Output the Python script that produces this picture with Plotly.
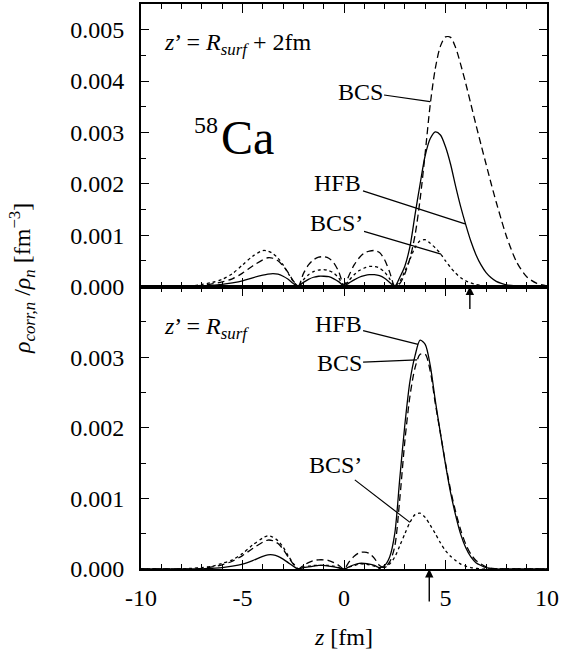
import plotly.graph_objects as go
from plotly.subplots import make_subplots
import numpy as np

# sample positions along z [fm]
Z = [-10, -9, -8, -7.5, -7, -6.5, -6, -5.5, -5, -4.5, -4,
     -3.75, -3.5, -3.25, -3, -2.75, -2.5, -2.25, -2, -1.75, -1.5, -1.25, -1,
     -0.75, -0.5, -0.25, 0, 0.25, 0.5, 0.75, 1, 1.25, 1.5, 1.75, 2, 2.25, 2.5,
     2.75, 3, 3.25, 3.5, 3.75, 4, 4.25, 4.5, 4.75, 5, 5.25, 5.5, 5.75, 6,
     6.25, 6.5, 6.75, 7, 7.25, 7.5, 7.75, 8, 8.5, 9, 9.5, 10]

# rho_corr,n / rho_n in units of 1e-3 fm^-3, z' = R_surf + 2 fm
TOP_HFB = [0, 0, 0, 0.00, 0.01, 0.02, 0.04, 0.07, 0.11, 0.17, 0.22,
           0.24, 0.25, 0.24, 0.20, 0.14, 0.06, 0.01, 0.08, 0.14, 0.18, 0.20, 0.20,
           0.19, 0.15, 0.09, 0.01, 0.07, 0.13, 0.18, 0.21, 0.23, 0.23, 0.21, 0.16, 0.08, 0.00,
           0.18, 0.40, 0.78, 1.40, 2.00, 2.55, 2.88, 3.01, 2.95, 2.72, 2.38, 1.95, 1.55, 1.20,
           0.88, 0.62, 0.42, 0.27, 0.17, 0.10, 0.06, 0.03, 0.01, 0, 0, 0]
TOP_BCS = [0, 0, 0, 0.00, 0.02, 0.05, 0.09, 0.15, 0.26, 0.40, 0.52,
           0.56, 0.55, 0.50, 0.40, 0.27, 0.11, 0.01, 0.25, 0.42, 0.52, 0.57, 0.58,
           0.55, 0.46, 0.28, 0.02, 0.22, 0.42, 0.56, 0.65, 0.69, 0.70, 0.66, 0.52, 0.28, 0.01,
           0.06, 0.25, 0.55, 1.00, 1.70, 2.60, 3.55, 4.25, 4.68, 4.86, 4.85, 4.65, 4.32, 3.95,
           3.55, 3.15, 2.76, 2.38, 2.00, 1.64, 1.30, 0.98, 0.48, 0.19, 0.06, 0.01]
TOP_BCSP = [0, 0, 0, 0.01, 0.04, 0.08, 0.14, 0.25, 0.42, 0.59, 0.70,
            0.69, 0.64, 0.55, 0.42, 0.26, 0.10, 0.01, 0.13, 0.23, 0.29, 0.32, 0.33,
            0.31, 0.26, 0.16, 0.01, 0.12, 0.23, 0.31, 0.36, 0.39, 0.39, 0.36, 0.28, 0.15, 0.01,
            0.10, 0.30, 0.53, 0.76, 0.89, 0.91, 0.84, 0.75, 0.64, 0.50, 0.37, 0.26, 0.17, 0.11,
            0.07, 0.04, 0.02, 0.01, 0, 0, 0, 0, 0, 0, 0, 0]

# z' = R_surf
BOT_HFB = [0, 0, 0, 0.00, 0.00, 0.01, 0.02, 0.04, 0.07, 0.12, 0.18,
           0.20, 0.20, 0.18, 0.14, 0.09, 0.04, 0.00, 0.02, 0.03, 0.04, 0.05, 0.05,
           0.04, 0.03, 0.015, 0.00, 0.03, 0.06, 0.08, 0.08, 0.07, 0.05, 0.02, 0.05, 0.17, 0.50,
           1.29, 2.05, 2.66, 3.02, 3.24, 3.18, 2.88, 2.38, 1.92, 1.48, 1.08, 0.76, 0.49, 0.30,
           0.17, 0.09, 0.05, 0.02, 0.01, 0, 0, 0, 0, 0, 0, 0]
BOT_BCS = [0, 0, 0, 0.00, 0.01, 0.03, 0.06, 0.11, 0.19, 0.29, 0.38,
           0.41, 0.40, 0.36, 0.28, 0.17, 0.07, 0.00, 0.05, 0.09, 0.12, 0.13, 0.13,
           0.12, 0.09, 0.05, 0.00, 0.10, 0.18, 0.23, 0.24, 0.22, 0.15, 0.05, 0.02, 0.10, 0.32,
           1.00, 1.82, 2.45, 2.85, 3.04, 3.04, 2.80, 2.34, 1.92, 1.50, 1.12, 0.81, 0.55, 0.35,
           0.21, 0.12, 0.07, 0.03, 0.01, 0, 0, 0, 0, 0, 0, 0]
BOT_BCSP = [0, 0, 0, 0.01, 0.02, 0.04, 0.08, 0.13, 0.22, 0.34, 0.44,
            0.47, 0.45, 0.40, 0.31, 0.19, 0.08, 0.00, 0.02, 0.04, 0.05, 0.05, 0.05,
            0.05, 0.04, 0.02, 0.00, 0.03, 0.05, 0.07, 0.07, 0.06, 0.04, 0.01, 0.02, 0.07, 0.17,
            0.33, 0.50, 0.66, 0.77, 0.79, 0.73, 0.62, 0.50, 0.37, 0.26, 0.18, 0.12, 0.07, 0.04,
            0.02, 0.01, 0, 0, 0, 0, 0, 0, 0, 0, 0, 0]

for s in (TOP_HFB, TOP_BCS, TOP_BCSP, BOT_HFB, BOT_BCS, BOT_BCSP):
    assert len(s) == len(Z), len(s)

X_TICKS = [-10, -5, 0, 5, 10]
X_TICKTEXT = ["-10", "-5", "0", "5", "10"]
TOP_YTICKS = [0, 0.001, 0.002, 0.003, 0.004, 0.005]
TOP_YTEXT = ["0.000", "0.001", "0.002", "0.003", "0.004", "0.005"]
BOT_YTICKS = [0, 0.001, 0.002, 0.003]
BOT_YTEXT = ["0.000", "0.001", "0.002", "0.003"]

FONT = "Liberation Serif"
W, H = 561, 655
ML, MR, MT, MB = 141, 14, 2, 86
PW, PH = W - ML - MR, H - MT - MB


def px(x):
    return (x - ML) / PW


def py(y):
    return (H - MB - y) / PH


fig = make_subplots(rows=2, cols=1, shared_xaxes=True, vertical_spacing=0)

styles = [("HFB", "solid"), ("BCS", "7px,4px"), ("BCS’", "dot")]
for row, series in ((1, (TOP_HFB, TOP_BCS, TOP_BCSP)), (2, (BOT_HFB, BOT_BCS, BOT_BCSP))):
    for (name, dash), vals in zip(styles, series):
        fig.add_trace(go.Scatter(
            x=Z, y=np.array(vals) * 1e-3, mode="lines", name=name,
            line=dict(color="black", width=1.3, dash=dash, shape="spline", smoothing=0.8),
            showlegend=False), row=row, col=1)

axis_common = dict(showline=True, linewidth=2, linecolor="black", mirror="ticks",
                   ticks="inside", tickcolor="black", showgrid=False, zeroline=False,
                   tickfont=dict(family=FONT, size=24, color="black"))

xcommon = dict(axis_common, range=[-10, 10], tickmode="array", tickvals=X_TICKS,
               ticktext=X_TICKTEXT, ticklen=9, tickwidth=1.2,
               minor=dict(tickmode="linear", tick0=0, dtick=1, ticklen=5,
                          ticks="inside", tickcolor="black", tickwidth=1))
fig.update_xaxes(xcommon, showticklabels=False, row=1, col=1)
fig.update_xaxes(xcommon, showticklabels=True, ticklabelstandoff=6, row=2, col=1)

ycommon = dict(axis_common, ticklen=8, tickwidth=1.2, ticklabelstandoff=10,
               minor=dict(tickmode="linear", tick0=0, dtick=0.0005, ticklen=5,
                          ticks="inside", tickcolor="black", tickwidth=1))
fig.update_yaxes(ycommon, range=[0, 0.0055], tickmode="array", tickvals=TOP_YTICKS,
                 ticktext=TOP_YTEXT, row=1, col=1)
fig.update_yaxes(ycommon, range=[0, 0.004], tickmode="array", tickvals=BOT_YTICKS,
                 ticktext=BOT_YTEXT, row=2, col=1)

tfont = dict(family=FONT, size=24, color="black")
ann = []

# curve labels with leader lines: (text, x, y, xref, yref, ax, ay)
leaders = [
    ("BCS", 4.24, 3.6e-3, "x", "y", -70, -10),
    ("HFB", 5.96, 1.22e-3, "x", "y", -127, -41),
    ("BCS’", 4.78, 0.63e-3, "x", "y", -105, -31),
    ("HFB", 3.65, 3.18e-3, "x2", "y2", -80, -20),
    ("BCS", 3.6, 2.96e-3, "x2", "y2", -78, 3),
    ("BCS’", 3.25, 0.66e-3, "x2", "y2", -74, -57),
]
for t, x, y, xr, yr, ax, ay in leaders:
    ann.append(dict(text=t, x=x, y=y, xref=xr, yref=yr, ax=ax, ay=ay,
                    showarrow=True, arrowhead=0, arrowwidth=1.2, arrowcolor="black",
                    standoff=0, startstandoff=0, font=tfont))

# z' markers below each panel
ann.append(dict(text="", x=6.2, y=0, xref="x", yref="y", ax=0, ay=24, showarrow=True,
                arrowhead=2, arrowsize=1.2, arrowwidth=1.4, arrowcolor="black", standoff=0))
ann.append(dict(text="", x=4.2, y=0, xref="x2", yref="y2", ax=0, ay=34, showarrow=True,
                arrowhead=2, arrowsize=1.2, arrowwidth=1.4, arrowcolor="black", standoff=0))

# panel captions
ann.append(dict(text="<i>z</i>’ = <i>R<sub>surf</sub></i> + 2fm", x=px(162), y=py(42),
                xref="paper", yref="paper", xanchor="left", yanchor="middle",
                showarrow=False, font=tfont))
ann.append(dict(text="<i>z</i>’ = <i>R<sub>surf</sub></i>", x=px(162), y=py(327),
                xref="paper", yref="paper", xanchor="left", yanchor="middle",
                showarrow=False, font=tfont))
ann.append(dict(text="58", x=px(220), y=py(123), xref="paper", yref="paper",
                xanchor="right", yanchor="middle", showarrow=False,
                font=dict(family=FONT, size=24, color="black")))
ann.append(dict(text="Ca", x=px(219), y=py(136), xref="paper", yref="paper",
                xanchor="left", yanchor="middle", showarrow=False,
                font=dict(family=FONT, size=48, color="black")))

# axis titles
ann.append(dict(text="<i>z</i> [fm]", x=px(343), y=py(637), xref="paper", yref="paper",
                yanchor="middle", showarrow=False, font=tfont))
ann.append(dict(text="<i>ρ<sub>corr,n</sub></i> /<i>ρ<sub>n</sub></i> [fm<sup>−3</sup>]",
                x=px(22), y=py(278), xref="paper", yref="paper", textangle=-90,
                xanchor="center", yanchor="middle", showarrow=False, font=tfont))

fig.update_layout(width=W, height=H, margin=dict(l=ML, r=MR, t=MT, b=MB),
                  paper_bgcolor="white", plot_bgcolor="white", annotations=ann,
                  font=dict(family=FONT, color="black"))

fig.write_html("out.html")
